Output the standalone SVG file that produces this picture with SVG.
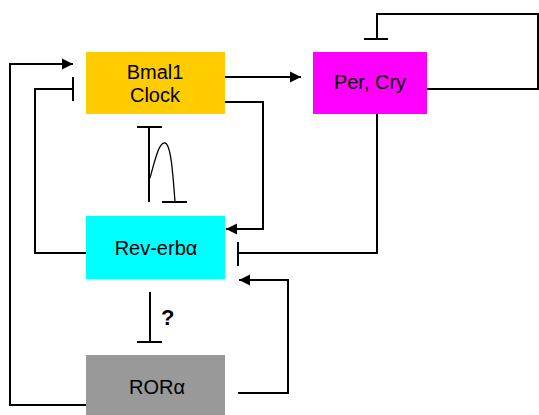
<svg xmlns="http://www.w3.org/2000/svg" width="539" height="415" viewBox="0 0 539 415">
<defs>
<marker id="arr" markerUnits="userSpaceOnUse" markerWidth="12" markerHeight="12" refX="11" refY="6" orient="auto">
<path d="M0,0.5 L11,6 L0,11.5 Z" fill="#000"/>
</marker>
</defs>
<style>
.lbl{font-family:"Liberation Sans",Arial,sans-serif;font-size:20px;fill:#000;text-anchor:middle}
.ln{fill:none;stroke:#000;stroke-width:2}
</style>
<rect width="539" height="415" fill="#fff"/>
<g id="bmal1">
<rect x="86" y="52" width="139" height="62" fill="#FFCC00"/>
<text class="lbl" x="155" y="79">Bmal1</text>
<text class="lbl" x="155" y="102">Clock</text>
</g>
<g id="percry">
<rect x="313" y="52" width="114" height="62" fill="#FF00FF"/>
<text class="lbl" x="370" y="89">Per, Cry</text>
</g>
<g id="reverb">
<rect x="86" y="216" width="139" height="63" fill="#00FFFF"/>
<text class="lbl" x="156" y="255">Rev-erbα</text>
</g>
<g id="ror">
<rect x="86" y="355" width="139" height="60" fill="#999999"/>
<text class="lbl" x="157" y="394">RORα</text>
</g>
<g id="connectors">
<path class="ln" d="M86,405 H10 V64 H73" marker-end="url(#arr)"/>
<path class="ln" d="M86,253 H35 V89 H73 M73,77 V101"/>
<path class="ln" d="M225,77 H301" marker-end="url(#arr)"/>
<path class="ln" d="M225,102 H263 V229 H226" marker-end="url(#arr)"/>
<path class="ln" d="M377,114 V253 H238 M238,242 V266"/>
<path class="ln" d="M427,89 H538 V14 H377 V39 M364,39 H388"/>
<path class="ln" d="M238,393 H288 V280 H239" marker-end="url(#arr)"/>
<path class="ln" d="M150,292 V342 M137,342 H162"/>
<path class="ln" d="M137,127 H162 M149,127 V202 M162,202 H187"/>
<path fill="none" stroke="#000" stroke-width="1.3" d="M150,178 C155,160 159,142 165,143 C171,144 173,175 175,202"/>
<text x="161" y="325" font-family="Liberation Sans,Arial,sans-serif" font-size="22" font-weight="bold">?</text>
</g>
</svg>
